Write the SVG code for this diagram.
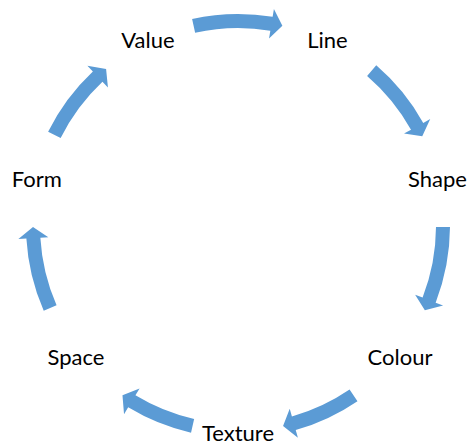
<svg xmlns="http://www.w3.org/2000/svg" width="472" height="444" viewBox="0 0 472 444">
<style>
.arr{fill:#5B9BD5;stroke:none}
.lbl{font-family:Lato,"Open Sans","Liberation Sans",sans-serif;font-size:22px;fill:#000;text-anchor:middle}
</style>
<rect width="472" height="444" fill="#fff"/>
<g id="connectors">
<path class="arr" d="M192.11,19.02 A212,212 0 0 1 272.63,16.85 L273.93,8.95 L282.37,25.86 L269.03,38.55 L270.34,30.66 A198,198 0 0 0 195.14,32.69 Z"/>
<path class="arr" d="M376.25,65.28 A212,212 0 0 1 423.24,122.90 L430.23,119.00 L422.25,136.13 L404.02,133.60 L411.01,129.70 A198,198 0 0 0 367.12,75.89 Z"/>
<path class="arr" d="M450.00,227.11 A212,212 0 0 1 435.65,302.66 L443.11,305.56 L424.84,310.36 L415.14,294.71 L422.60,297.60 A198,198 0 0 0 436.00,227.04 Z"/>
<path class="arr" d="M357.47,401.13 A212,212 0 0 1 295.72,429.99 L297.90,437.69 L283.07,425.98 L289.73,408.82 L291.91,416.52 A198,198 0 0 0 349.58,389.57 Z"/>
<path class="arr" d="M191.03,432.73 A212,212 0 0 1 128.18,407.34 L124.03,414.18 L122.48,395.35 L139.57,388.52 L135.43,395.36 A198,198 0 0 0 194.13,419.08 Z"/>
<path class="arr" d="M43.73,310.87 A212,212 0 0 1 26.37,238.57 L18.39,239.05 L33.00,227.07 L48.33,237.27 L40.35,237.74 A198,198 0 0 0 56.56,305.27 Z"/>
<path class="arr" d="M48.11,131.74 A212,212 0 0 1 92.88,71.46 L87.40,65.63 L106.09,69.08 L107.94,87.50 L102.46,81.66 A198,198 0 0 0 60.65,137.96 Z"/>
</g>
<g id="value"><text class="lbl" x="148" y="47.7">Value</text></g>
<g id="line"><text class="lbl" x="327.5" y="47.7">Line</text></g>
<g id="shape"><text class="lbl" x="437.5" y="186.7">Shape</text></g>
<g id="colour"><text class="lbl" x="400" y="364.7">Colour</text></g>
<g id="texture"><text class="lbl" x="238" y="440.5">Texture</text></g>
<g id="space"><text class="lbl" x="76" y="364.7">Space</text></g>
<g id="form"><text class="lbl" x="36.8" y="186.7">Form</text></g>
</svg>
